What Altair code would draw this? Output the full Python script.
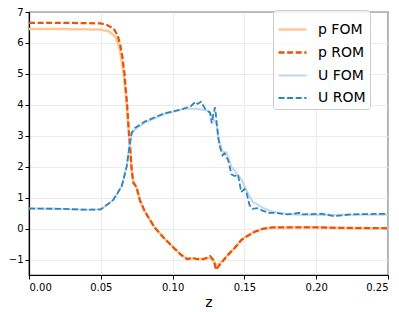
import altair as alt
import pandas as pd

p_rom_z = [0, 0.02, 0.04, 0.05, 0.0544, 0.059, 0.0617, 0.0635, 0.0651, 0.0665, 0.0674, 0.0683, 0.0692, 0.0704, 0.0715, 0.0726, 0.0749, 0.0772, 0.0806, 0.0874, 0.0943, 0.101, 0.1057, 0.1102, 0.1136, 0.117, 0.1216, 0.1261, 0.1288, 0.1302, 0.1341, 0.1387, 0.1432, 0.1478, 0.151, 0.1569, 0.1626, 0.1694, 0.183, 0.2, 0.22, 0.25]
p_rom_v = [6.65, 6.65, 6.64, 6.63, 6.58, 6.46, 6.25, 5.94, 5.53, 5.01, 4.49, 4.03, 3.35, 2.63, 1.9, 1.49, 1.34, 0.92, 0.56, 0.04, -0.32, -0.63, -0.84, -0.99, -0.94, -0.99, -0.99, -0.89, -1.04, -1.33, -1.1, -0.84, -0.63, -0.37, -0.27, -0.11, -0.01, 0.04, 0.04, 0.04, 0.02, 0.01]

p_fom_z = [0, 0.02, 0.04, 0.05, 0.0556, 0.0601, 0.0624, 0.0642, 0.0658, 0.067, 0.068, 0.069, 0.0704, 0.0715, 0.0726, 0.075, 0.0772, 0.0806, 0.0874, 0.0943, 0.101, 0.1057, 0.11, 0.115, 0.12, 0.125, 0.128, 0.1305, 0.134, 0.1387, 0.1432, 0.1478, 0.151, 0.1569, 0.1626, 0.1694, 0.183, 0.2, 0.22, 0.25]
p_fom_v = [6.45, 6.45, 6.44, 6.43, 6.38, 6.2, 5.94, 5.53, 5.01, 4.5, 4.0, 3.4, 2.6, 1.9, 1.5, 1.32, 0.92, 0.56, 0.04, -0.32, -0.63, -0.84, -0.97, -0.97, -0.98, -0.95, -1.0, -1.2, -1.08, -0.84, -0.63, -0.37, -0.26, -0.1, -0.01, 0.03, 0.04, 0.04, 0.02, 0.01]

u_rom_z = [0, 0.02, 0.04, 0.05, 0.0567, 0.0587, 0.0615, 0.0647, 0.068, 0.0699, 0.0715, 0.0738, 0.0806, 0.094, 0.1057, 0.1125, 0.116, 0.1175, 0.1198, 0.1227, 0.1261, 0.1273, 0.1284, 0.1296, 0.1318, 0.133, 0.1348, 0.1362, 0.1387, 0.141, 0.1433, 0.1455, 0.1478, 0.15, 0.1516, 0.1535, 0.1557, 0.159, 0.1626, 0.167, 0.1717, 0.1785, 0.183, 0.1887, 0.19, 0.2036, 0.2125, 0.224, 0.25]
u_rom_v = [0.65, 0.64, 0.61, 0.62, 0.85, 0.93, 1.13, 1.39, 2.0, 2.63, 3.1, 3.25, 3.46, 3.72, 3.85, 3.95, 4.1, 4.03, 4.1, 3.87, 3.75, 3.4, 3.72, 3.92, 2.94, 2.63, 2.37, 2.43, 2.21, 1.75, 1.7, 1.75, 1.18, 1.28, 1.13, 0.77, 0.64, 0.66, 0.58, 0.51, 0.51, 0.46, 0.47, 0.51, 0.46, 0.48, 0.40, 0.46, 0.48]

u_fom_z = [0, 0.02, 0.04, 0.05, 0.0567, 0.0587, 0.0615, 0.0647, 0.068, 0.0699, 0.0715, 0.0738, 0.0806, 0.0943, 0.108, 0.117, 0.1239, 0.127, 0.1307, 0.132, 0.135, 0.1375, 0.141, 0.1443, 0.1478, 0.151, 0.1557, 0.1614, 0.167, 0.176, 0.186, 0.2, 0.22, 0.25]
u_fom_v = [0.65, 0.64, 0.61, 0.62, 0.85, 0.93, 1.13, 1.39, 2.0, 2.63, 3.05, 3.2, 3.42, 3.7, 3.87, 3.87, 3.82, 3.66, 3.35, 2.89, 2.47, 2.47, 2.0, 1.8, 1.6, 1.28, 0.87, 0.71, 0.58, 0.49, 0.45, 0.44, 0.45, 0.45]

series_names = ["p FOM", "p ROM", "U FOM", "U ROM"]
series_colors = ["#fdc796", "#e6550d", "#c0d8ee", "#3182bd"]
x_ticks = [0, 0.05, 0.10, 0.15, 0.20, 0.25]
y_ticks = [-1, 0, 1, 2, 3, 4, 5, 6, 7]

rows = []
for name, zs, vs in [("p FOM", p_fom_z, p_fom_v), ("p ROM", p_rom_z, p_rom_v),
                     ("U FOM", u_fom_z, u_fom_v), ("U ROM", u_rom_z, u_rom_v)]:
    for i, (z, v) in enumerate(zip(zs, vs)):
        rows.append({"z": z, "v": v, "series": name, "i": i})
df = pd.DataFrame(rows)

leg = alt.Legend(title=None, orient="none", legendX=244, legendY=-2)

chart = alt.Chart(df).mark_line(clip=True).encode(
    x=alt.X("z:Q", title="z", scale=alt.Scale(domain=[0, 0.25], nice=False),
            axis=alt.Axis(values=x_ticks, format=".2f", labelPadding=3, titlePadding=3)),
    y=alt.Y("v:Q", title=None, scale=alt.Scale(domain=[-1.5, 7], nice=False, zero=False),
            axis=alt.Axis(values=y_ticks, format="d", labelPadding=2)),
    color=alt.Color("series:N", scale=alt.Scale(domain=series_names, range=series_colors), legend=leg),
    strokeDash=alt.StrokeDash("series:N", scale=alt.Scale(domain=series_names,
                              range=[[1, 0], [6, 2.6], [1, 0], [6, 2.6]]), legend=leg),
    strokeWidth=alt.StrokeWidth("series:N", scale=alt.Scale(domain=series_names, range=[2.5, 1.8, 2.5, 1.8]),
                                legend=leg),
    order="i:Q",
).properties(
    width=359, height=263,
    autosize=alt.AutoSizeParams(type="none"),
    padding={"left": 21, "top": 4, "right": 3, "bottom": 37},
).configure_view(
    stroke="black", strokeWidth=1.2
).configure_axis(
    grid=True, gridColor="#e6e6e6", gridWidth=0.8,
    domainColor="black", domainWidth=1.2,
    tickColor="black", tickSize=4,
    labelFont="DejaVu Sans", labelFontSize=10, labelColor="black",
    titleFont="DejaVu Sans", titleFontSize=14, titleFontWeight="normal", titleColor="black",
).configure_legend(
    labelFont="DejaVu Sans", labelFontSize=14, labelColor="black",
    symbolType="stroke", symbolSize=784, labelOffset=10,
    strokeColor="#cccccc", fillColor="rgba(255,255,255,0.8)", cornerRadius=3,
    padding=4, rowPadding=-6,
)

chart.save("out.html", embed_options={"renderer": "svg", "actions": False})
